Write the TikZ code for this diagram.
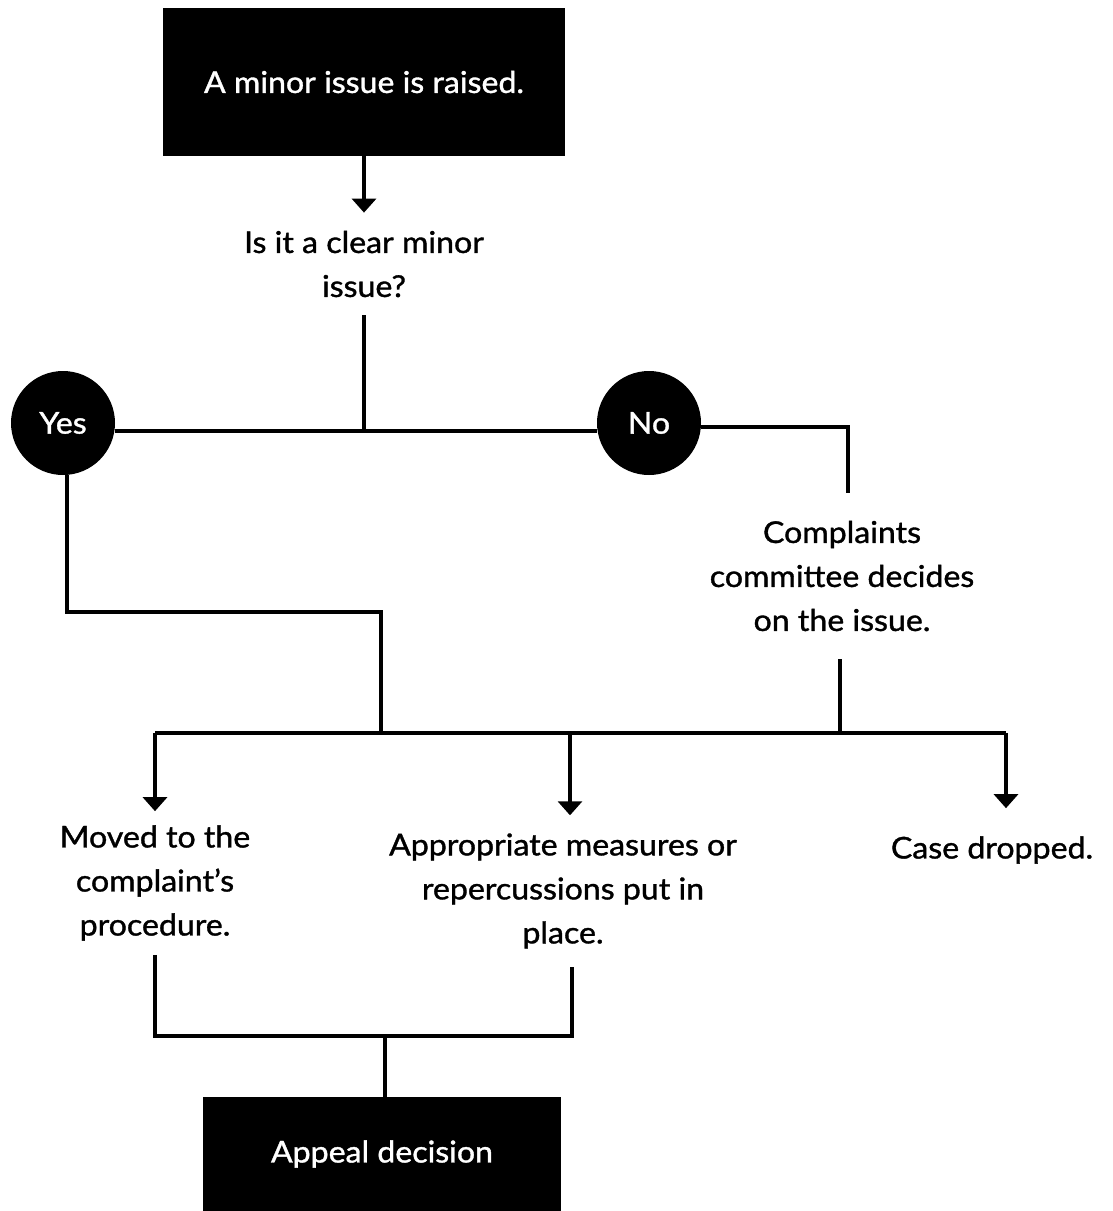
\documentclass[tikz,border=0pt]{standalone}
\usepackage{fontspec}
\setmainfont{Lato}[FakeStretch=1.07,FakeBold=1.2]
\usepackage{tikz}
\usetikzlibrary{arrows.meta,calc,positioning}
\usepackage{xcolor}

\begin{document}
\begin{tikzpicture}[x=1pt,y=-1pt,
	  every node/.style={align=center,text=black,draw=none,font=\fontsize{30}{44}\selectfont},
	  blackbox/.style={fill=black,text=white,inner sep=0pt},
	  answer/.style={circle,fill=black,text=white,minimum size=104pt,inner sep=0pt},
	  infotext/.style={inner xsep=0pt,inner ysep=#1},
	  infotext/.default=18pt,
	  link/.style={draw=black,line width=3.2pt},
	  flow/.style={link,-{Triangle[width=24pt,length=14pt]}}]

	  \useasboundingbox (0,0) rectangle (1113,1211);

	  % Position the nodes at the reference coordinates
	  \node[blackbox,minimum width=402pt,minimum height=148pt] (raised) at (364,82) {A minor issue is raised.};
	  \node[infotext] (clear) at (364,264) {Is it a clear minor\\issue?};
	  \node[answer] (yes) at (63,423) {Yes};
	  \node[answer] (no) at (649,423) {No};
	  \node[infotext=28pt] (committee) at (842,576) {Complaints\\committee decides\\on the issue.};
	  \node[infotext=14pt] (moved) at (155,883) {Moved to the\\complaint’s\\procedure.};
	  \node[infotext=18pt] (measures) at (563,891) {Appropriate measures or\\repercussions put in\\place.};
	  \node[infotext=28pt] (dropped) at (992,850) {Case dropped.};
	  \node[blackbox,minimum width=358pt,minimum height=114pt] (appeal) at (382,1154) {Appeal decision};

	  \coordinate (hub) at (364,431);
	  \coordinate (nocorner) at (848,427);
	  \coordinate (yesbend) at (67,612);
	  \coordinate (yesdrop) at (381,733);
	  \coordinate (busL) at (155,733);
	  \coordinate (busM) at (570,733);
	  \coordinate (busR) at (1006,733);
	  \coordinate (mergeL) at (155,1036);
	  \coordinate (mergeR) at (572,1036);

	  % Connectors
	  \draw[flow] (raised.south) -- (raised.south |- clear.north);
	  \draw[link] (clear.south) -- (hub);
	  \draw[link] (yes.east |- hub) -- (no.west |- hub);
	  \draw[link] (no.east |- nocorner) -- (nocorner) -- (nocorner |- committee.north);
	  \draw[link] (yes.south -| yesbend) -- (yesbend) -| (yesdrop);
	  \draw[link] (committee.south -| 840,0) -- (840,0 |- busR);
	  \draw[link] (busL) -- (busR);
	  \draw[flow] (busL) -- (busL |- moved.north);
	  \draw[flow] (busM) -- (busM |- measures.north);
	  \draw[flow] (busR) -- (busR |- dropped.north);
	  \draw[link] (mergeL |- moved.south) -- (mergeL) -- (mergeR) -- (mergeR |- measures.south);
	  \draw[link] (385,1036) -- (385,0 |- appeal.north);

\end{tikzpicture}
\end{document}
